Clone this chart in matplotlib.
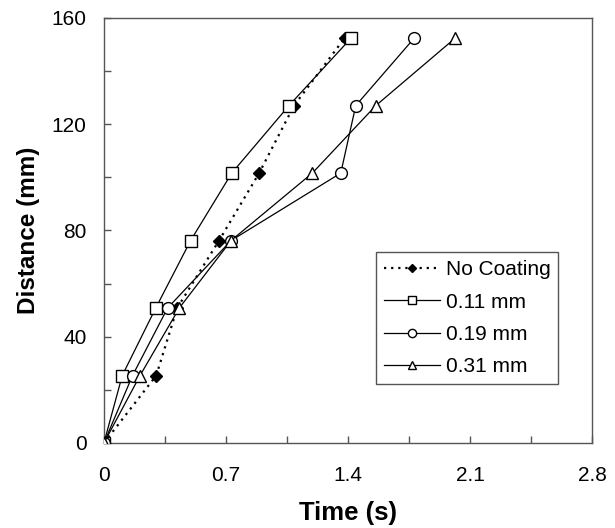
import matplotlib
matplotlib.use("Agg")
import matplotlib.pyplot as plt
from matplotlib.ticker import MultipleLocator

plt.rcParams['font.family'] = ['Liberation Sans', 'DejaVu Sans']

distance = [0, 25.4, 50.8, 76.2, 101.6, 127.0, 152.4]
time_no_coating = [0, 0.30, 0.42, 0.66, 0.89, 1.09, 1.38]
time_011 = [0, 0.105, 0.297, 0.497, 0.733, 1.061, 1.417]
time_019 = [0, 0.164, 0.365, 0.729, 1.358, 1.444, 1.779]
time_031 = [0, 0.207, 0.432, 0.729, 1.195, 1.559, 2.014]
labels = ["No Coating", "0.11 mm", "0.19 mm", "0.31 mm"]
x_ticks = [0, 0.7, 1.4, 2.1, 2.8]
y_ticks = [0, 40, 80, 120, 160]

fig = plt.figure(figsize=(6.15, 5.28), dpi=100)
ax = fig.add_axes([0.169, 0.161, 0.794, 0.805])

ms = 8.5
lw = 0.9
ax.plot(time_no_coating, distance, linestyle=(0, (1, 2.2)), color='black', lw=1.6,
        marker='D', markersize=6.5, markerfacecolor='black', markeredgecolor='black',
        label=labels[0], zorder=2)
ax.plot(time_011, distance, '-', color='black', lw=lw, marker='s', markersize=ms,
        markerfacecolor='white', markeredgecolor='black', markeredgewidth=1.0,
        label=labels[1], zorder=3)
ax.plot(time_019, distance, '-', color='black', lw=lw, marker='o', markersize=ms,
        markerfacecolor='white', markeredgecolor='black', markeredgewidth=1.0,
        label=labels[2], zorder=3)
ax.plot(time_031, distance, '-', color='black', lw=lw, marker='^', markersize=ms + 0.5,
        markerfacecolor='white', markeredgecolor='black', markeredgewidth=1.0,
        label=labels[3], zorder=3)

ax.set_xlim(0, 2.8)
ax.set_ylim(0, 160)
ax.set_xticks(x_ticks)
ax.set_xticklabels([f"{v:g}" for v in x_ticks])
ax.set_yticks(y_ticks)
ax.set_yticklabels([f"{v:g}" for v in y_ticks])
ax.xaxis.set_minor_locator(MultipleLocator(0.35))
ax.yaxis.set_minor_locator(MultipleLocator(20))

ax.tick_params(which='both', direction='in', length=5, width=1, color='#555555',
               labelsize=15)
ax.tick_params(axis='x', pad=16.5)
ax.tick_params(axis='y', pad=12.6)
for s in ax.spines.values():
    s.set_color('#555555')
    s.set_linewidth(1.0)

ax.set_xlabel("Time (s)", fontsize=18.5, fontweight='bold', labelpad=11.5)
ax.set_ylabel("Distance (mm)", fontsize=17.5, fontweight='bold', labelpad=8.5)

leg = ax.legend(loc='lower right', bbox_to_anchor=(0.930, 0.139), fontsize=15,
                frameon=True, fancybox=False, edgecolor='#555555', framealpha=1,
                markerscale=0.7, handlelength=2.7, handletextpad=0.25,
                borderpad=0.37, labelspacing=0.64, borderaxespad=0)
leg.get_frame().set_linewidth(1.0)

fig.savefig("out.png", dpi=100)
